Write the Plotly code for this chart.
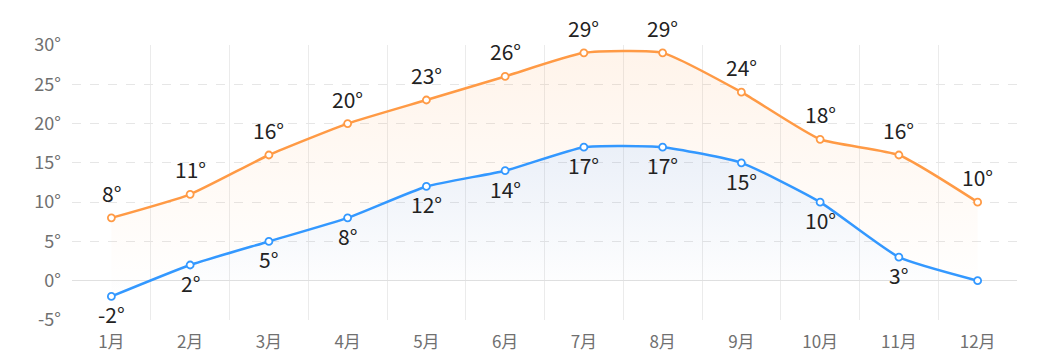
import plotly.graph_objects as go

months = ["1月", "2月", "3月", "4月", "5月", "6月", "7月", "8月", "9月", "10月", "11月", "12月"]
high = [8, 11, 16, 20, 23, 26, 29, 29, 24, 18, 16, 10]
low = [-2, 2, 5, 8, 12, 14, 17, 17, 15, 10, 3, 0]
y_ticks = [-5, 0, 5, 10, 15, 20, 25, 30]

x = list(range(len(months)))
orange = "#FF9A45"
blue = "#3398FF"
font_family = "Microsoft YaHei, Noto Sans CJK SC, Noto Sans, sans-serif"

fig = go.Figure()
fig.add_trace(go.Scatter(
    x=x, y=low, mode="lines",
    line=dict(color=blue, width=2.5, shape="spline", smoothing=0.5),
    fill="tozeroy",
    fillgradient=dict(type="vertical", colorscale=[[0, "rgba(70,115,190,0.0)"], [1, "rgba(70,115,190,0.11)"]]),
    cliponaxis=False, showlegend=False, hoverinfo="skip",
))
fig.add_trace(go.Scatter(
    x=x, y=high, mode="lines",
    line=dict(color=orange, width=2.5, shape="spline", smoothing=0.5),
    fill="tonexty",
    fillgradient=dict(type="vertical", colorscale=[[0, "rgba(255,154,69,0.0)"], [1, "rgba(255,154,69,0.11)"]]),
    cliponaxis=False, showlegend=False, hoverinfo="skip",
))
for series, color in ((low, blue), (high, orange)):
    fig.add_trace(go.Scatter(
        x=x, y=series, mode="markers",
        marker=dict(size=7, color="white", line=dict(color=color, width=1.8)),
        cliponaxis=False, showlegend=False, hoverinfo="skip",
    ))

annotations = []
for xi, v in zip(x, high):
    annotations.append(dict(x=xi, y=v, text=f"{v}°", showarrow=False, yshift=25, borderpad=0,
                            font=dict(size=21, color="#222222", family=font_family)))
for xi, v in zip(x, low):
    if v == 0:
        continue
    annotations.append(dict(x=xi, y=v, text=f"{v}°", showarrow=False, yshift=-18, borderpad=0,
                            font=dict(size=21, color="#222222", family=font_family)))

fig.update_layout(
    width=1059, height=360,
    margin=dict(l=64, r=50, t=37, b=48),
    paper_bgcolor="white", plot_bgcolor="white",
    font=dict(family=font_family, color="#707070", size=18),
    annotations=annotations,
    xaxis=dict(
        range=[-0.5, 11.5], tickvals=x, ticktext=months,
        showgrid=False, zeroline=False, showline=False, ticks="",
        ticklabelstandoff=10,
        tickfont=dict(size=17, color="#707070"),
        minor=dict(tick0=-0.5, dtick=1, showgrid=True, gridcolor="#EBEBEB", gridwidth=1, ticks=""),
    ),
    yaxis=dict(
        range=[-5, 30], tickvals=y_ticks, ticktext=[f"{v}°" for v in y_ticks],
        showgrid=True, gridcolor="#E6E6E6", griddash="dash", gridwidth=1,
        zeroline=True, zerolinecolor="#E0E0E0", zerolinewidth=1,
        showline=False, ticks="", ticklabelstandoff=10,
        tickfont=dict(size=18, color="#707070"),
    ),
)

fig.write_html("out.html")
